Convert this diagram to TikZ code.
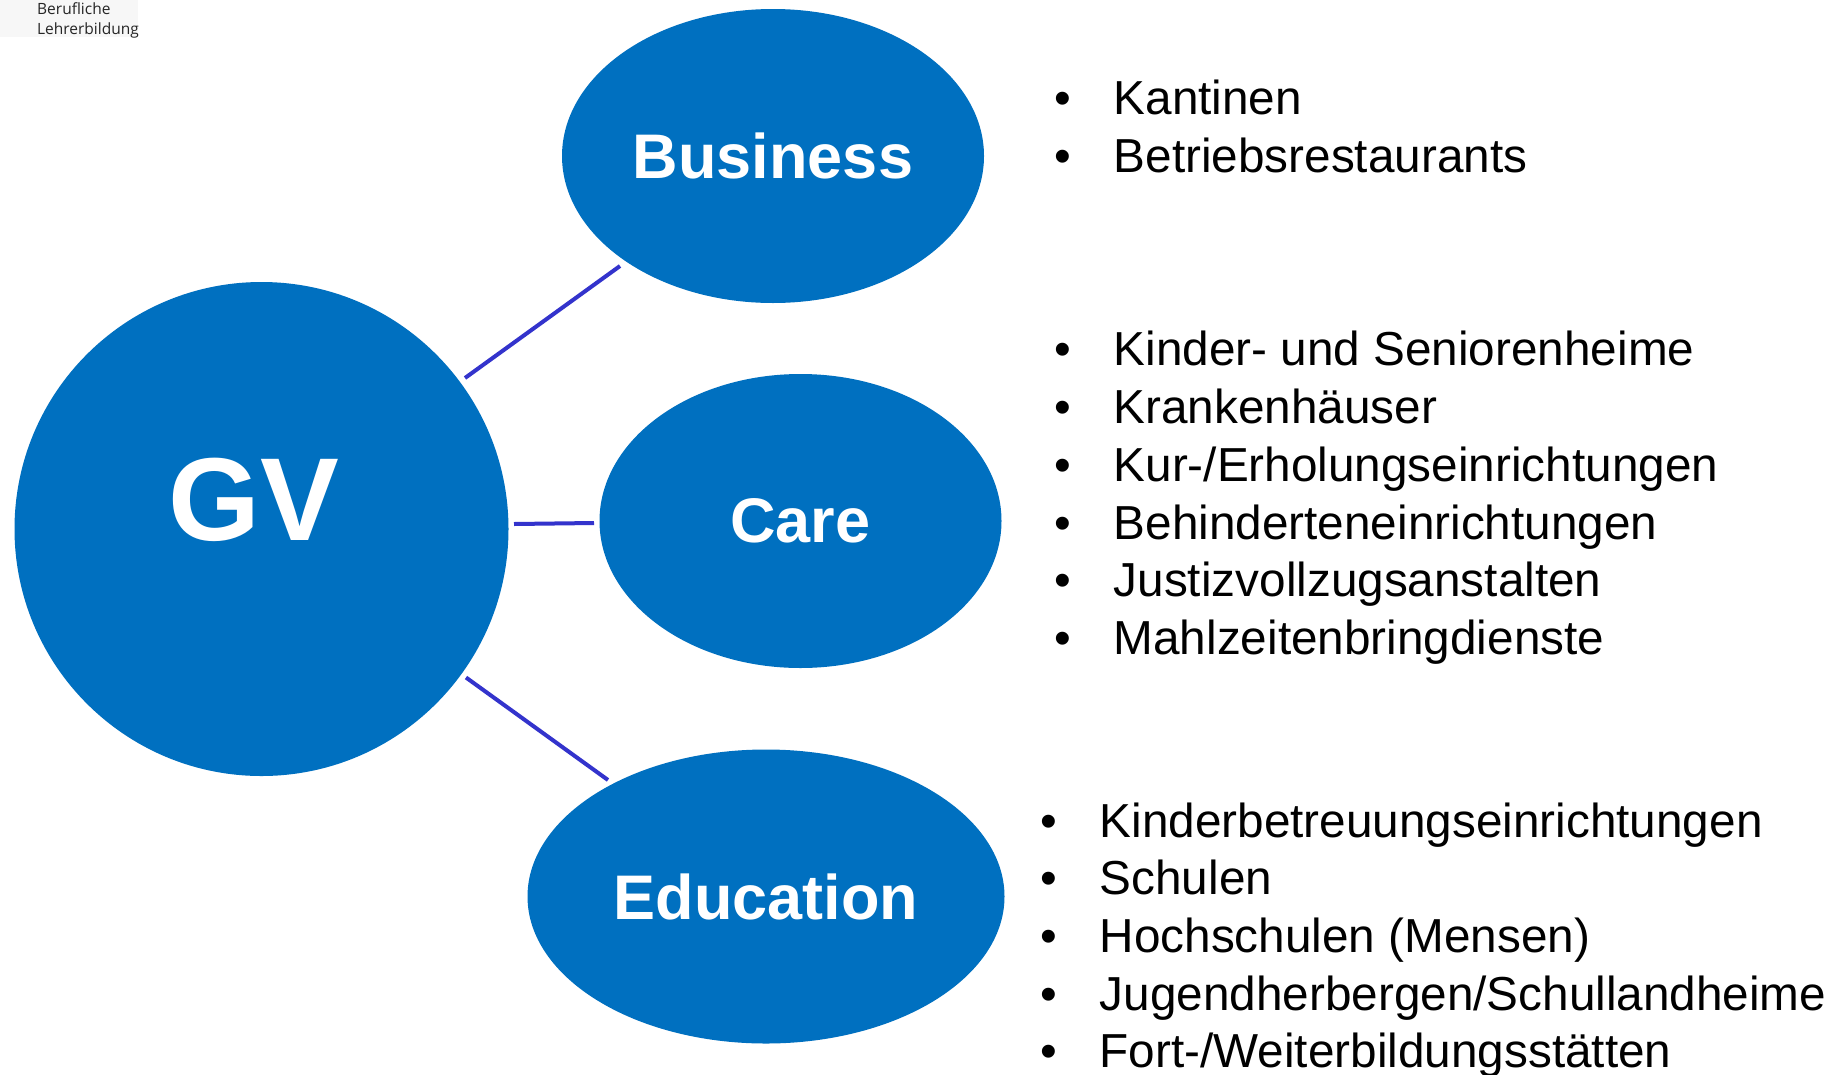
\documentclass[tikz,border=0pt]{standalone}
\usepackage{fontspec}
\setmainfont{Liberation Sans}
\newfontfamily\hdrfont{Open Sans}
\usetikzlibrary{shapes.geometric}
\definecolor{blob}{HTML}{0070C0}
\definecolor{linkc}{HTML}{3333CC}
\begin{document}
\begin{tikzpicture}[x=1pt,y=-1pt,
  blobnode/.style={ellipse, fill=blob, text=white, inner sep=0pt,
    font=\fontsize{63}{70}\selectfont\bfseries},
  itemtext/.style={anchor=base west, inner sep=0pt, font=\fontsize{47.7}{57.7}\selectfont},
  bulletmark/.style={anchor=base, inner sep=0pt, font=\fontsize{47.7}{57.7}\selectfont},
  link/.style={draw=linkc, line width=4pt},
  hdr/.style={anchor=base west, inner sep=0pt, text=black!85,
    font=\hdrfont\fontsize{15.5}{18}\selectfont}]
\useasboundingbox (0,0) rectangle (1847,1074);
\fill[white] (0,0) rectangle (1847,1074);

% header
\fill[gray!6] (0,0) rectangle (138,37);
\node[hdr] (hdr1) at (37,14) {Berufliche};
\node[hdr] (hdr2) at (37,34) {Lehrerbildung};

% main shapes
\node[circle, fill=blob, minimum size=494pt, inner sep=0pt] (gv) at (261.5,529) {};
\node[inner sep=0pt, text=white, font=\fontsize{118}{120}\selectfont\bfseries] (gvlabel) at (254,499.5) {GV};
\node[blobnode, minimum width=422pt, minimum height=294pt] (business) at (773,156) {Business};
\node[blobnode, minimum width=402pt, minimum height=294pt] (care) at (800.5,521) {Care};
\node[blobnode, minimum width=477pt, minimum height=294pt] (education) at (766,896.5) {Education};

% connectors
\coordinate (l1a) at (465,378);
\coordinate (l1b) at (620,266);
\coordinate (l2a) at (514,524);
\coordinate (l2b) at (594,523);
\coordinate (l3a) at (466,677.5);
\coordinate (l3b) at (608,780);
\draw[link] (l1a) -- (l1b);
\draw[link] (l2a) -- (l2b);
\draw[link] (l3a) -- (l3b);

% Business list
\node[bulletmark] (bb1) at (1063,114.8) {•};
\node[itemtext] (bt1) at (1113.5,114.8) {Kantinen};
\node[bulletmark] (bb2) at (1063,172.5) {•};
\node[itemtext] (bt2) at (1113.5,172.5) {Betriebsrestaurants};

% Care list
\node[bulletmark] (cb1) at (1063,365.8) {•};
\node[itemtext] (ct1) at (1113.5,365.8) {Kinder- und Seniorenheime};
\node[bulletmark] (cb2) at (1063,423.5) {•};
\node[itemtext] (ct2) at (1113.5,423.5) {Krankenhäuser};
\node[bulletmark] (cb3) at (1063,481.2) {•};
\node[itemtext] (ct3) at (1113.5,481.2) {Kur-/Erholungseinrichtungen};
\node[bulletmark] (cb4) at (1063,539) {•};
\node[itemtext] (ct4) at (1113.5,539) {Behinderteneinrichtungen};
\node[bulletmark] (cb5) at (1063,596.7) {•};
\node[itemtext] (ct5) at (1113.5,596.7) {Justizvollzugsanstalten};
\node[bulletmark] (cb6) at (1063,654.4) {•};
\node[itemtext] (ct6) at (1113.5,654.4) {Mahlzeitenbringdienste};

% Education list
\node[bulletmark] (eb1) at (1049,837) {•};
\node[itemtext] (et1) at (1099.5,837) {Kinderbetreuungseinrichtungen};
\node[bulletmark] (eb2) at (1049,894.7) {•};
\node[itemtext] (et2) at (1099.5,894.7) {Schulen};
\node[bulletmark] (eb3) at (1049,952.4) {•};
\node[itemtext] (et3) at (1099.5,952.4) {Hochschulen (Mensen)};
\node[bulletmark] (eb4) at (1049,1010) {•};
\node[itemtext] (et4) at (1099.5,1010) {Jugendherbergen/Schullandheime};
\node[bulletmark] (eb5) at (1049,1067.5) {•};
\node[itemtext] (et5) at (1099.5,1067.5) {Fort-/Weiterbildungsstätten};
\end{tikzpicture}
\end{document}
